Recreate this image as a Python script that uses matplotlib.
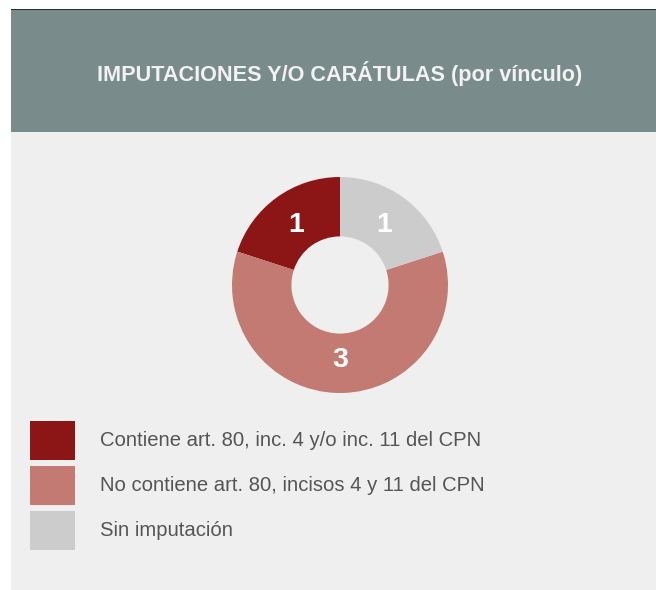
import matplotlib.pyplot as plt
import numpy as np
from matplotlib.patches import Rectangle

plt.rcParams['font.family'] = ['Liberation Sans', 'DejaVu Sans']

title = "IMPUTACIONES Y/O CARÁTULAS (por vínculo)"
categories = ["Contiene art. 80, inc. 4 y/o inc. 11 del CPN",
              "No contiene art. 80, incisos 4 y 11 del CPN",
              "Sin imputación"]
values = [1, 3, 1]
colors = ["#8c1515", "#c27a72", "#cccccc"]

W, H = 656, 590
fig = plt.figure(figsize=(W / 100, H / 100), dpi=100)
fig.patch.set_facecolor("white")

# background axes in pixel coordinates (y down)
bg = fig.add_axes([0, 0, 1, 1])
bg.set_xlim(0, W)
bg.set_ylim(H, 0)
bg.axis("off")

# card body, header and top border line
bg.add_patch(Rectangle((11, 132), W - 11, H - 132, color="#efefef", lw=0))
bg.add_patch(Rectangle((11, 10), W - 11, 122, color="#7a8b8b", lw=0))
bg.add_patch(Rectangle((11, 8.5), W - 11, 1.8, color="#2b2b2b", lw=0))
bg.text(340, 73, title, color="#f2f2f2", fontsize=15.6, fontweight="bold",
        ha="center", va="center")

# legend
for i, (lab, col) in enumerate(zip(categories, colors)):
    y0 = 421 + i * 45
    bg.add_patch(Rectangle((30, y0), 45, 39, color=col, lw=0))
    bg.text(100, y0 + 19.5, lab, color="#555555", fontsize=14.6,
            ha="left", va="center")

# donut
ax = fig.add_axes([232 / W, (H - 393) / H, 216 / W, 216 / H])
wedges, _ = ax.pie(values, colors=colors, startangle=90, counterclock=True,
                   radius=1.0, wedgeprops=dict(width=0.55, linewidth=0))
ax.set_aspect("equal")
ax.set_xlim(-1, 1)
ax.set_ylim(-1, 1)
ax.axis("off")

total = sum(values)
start = 90.0
for v in values:
    ang = np.deg2rad(start + 360.0 * v / total / 2)
    r = 0.69
    ax.text(r * np.cos(ang), r * np.sin(ang), str(v), color="white",
            fontsize=20.5, fontweight="bold", ha="center", va="center")
    start += 360.0 * v / total

fig.savefig("out.png", dpi=100)
